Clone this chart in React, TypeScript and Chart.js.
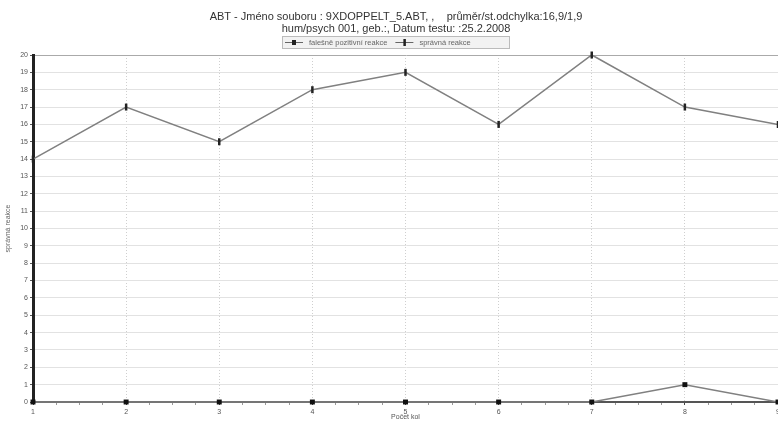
import React, { useEffect, useRef } from "react";
import { Chart, registerables } from "chart.js";

Chart.register(...registerables);

const rounds = [1, 2, 3, 4, 5, 6, 7, 8, 9];
const falsePositive = [0, 0, 0, 0, 0, 0, 0, 1, 0];
const correct = [14, 17, 15, 18, 19, 16, 20, 17, 16];
const titleLines = [
  "ABT - Jméno souboru : 9XDOPPELT_5.ABT, ,    průměr/st.odchylka:16,9/1,9",
  "hum/psych 001, geb.:, Datum testu: :25.2.2008",
];
const seriesNames = ["falešně pozitivní reakce", "správná reakce"];
const yTitle = "správná reakce";
const xTitle = "Počet kol";

const FONT = "'Liberation Sans', Arial, sans-serif";

// Draws the two-line heading and the boxed legend above the plot.
const header = {
  id: "header",
  afterDraw(chart: any) {
    const ctx = chart.ctx;
    ctx.save();
    ctx.fillStyle = "#333";
    ctx.font = `11px ${FONT}`;
    ctx.textAlign = "center";
    ctx.textBaseline = "middle";
    const cx = 396;
    ctx.fillText(titleLines[0], cx, 17);
    ctx.fillText(titleLines[1], cx, 29);

    // legend box
    const l = 282, t = 36, r = 509, b = 48;
    ctx.fillStyle = "#f2f2f2";
    ctx.fillRect(l, t, r - l, b - t);
    ctx.strokeStyle = "#bbb";
    ctx.lineWidth = 1;
    ctx.strokeRect(l + 0.5, t + 0.5, r - l, b - t);

    ctx.font = `7.5px ${FONT}`;
    ctx.textAlign = "left";
    let x = 285;
    const y = 42.5;
    chart.data.datasets.forEach((ds: any, i: number) => {
      ctx.strokeStyle = "#666";
      ctx.lineWidth = 1;
      ctx.beginPath();
      ctx.moveTo(x, y);
      ctx.lineTo(x + 18, y);
      ctx.stroke();
      ctx.fillStyle = "#222";
      if (i === 0) ctx.fillRect(x + 7, y - 2.5, 4, 5);
      else ctx.fillRect(x + 8, y - 3.5, 2.5, 7);
      ctx.fillStyle = "#666";
      ctx.fillText(ds.label, x + 24, y);
      x += 24 + ctx.measureText(ds.label).width + 8;
    });
    ctx.restore();
  },
};

export default function App() {
  const ref = useRef<HTMLCanvasElement>(null);
  useEffect(() => {
    document.body.style.margin = "0";
    const chart = new Chart(ref.current!, {
      type: "line",
      data: {
        datasets: [
          {
            label: seriesNames[0],
            data: rounds.map((r, i) => ({ x: r, y: falsePositive[i] })),
            borderColor: "#808080",
            borderWidth: 1.5,
            pointStyle: "rect",
            pointRadius: 3.5,
            pointBackgroundColor: "#111",
            pointBorderColor: "#111",
            pointBorderWidth: 0,
            clip: 6,
          },
          {
            label: seriesNames[1],
            data: rounds.map((r, i) => ({ x: r, y: correct[i] })),
            borderColor: "#808080",
            borderWidth: 1.5,
            pointStyle: "line",
            pointRotation: 90,
            pointRadius: 3.5,
            pointBorderColor: "#222",
            pointBorderWidth: 2.5,
            clip: 6,
          },
        ],
      },
      options: {
        animation: false,
        responsive: true,
        maintainAspectRatio: false,
        layout: { padding: { top: 55, left: 0, right: 0, bottom: 0 }, autoPadding: false },
        plugins: {
          tooltip: { enabled: false },
          title: { display: false },
          legend: { display: false },
        },
        scales: {
          x: {
            type: "linear",
            min: 1,
            max: 9,
            ticks: {
              stepSize: 0.25,
              autoSkip: false,
              maxRotation: 0,
              padding: 3,
              color: "#555",
              font: { family: FONT, size: 7 },
              callback: (v: any) => (Number.isInteger(v) ? String(v) : ""),
            },
            grid: {
              color: (c: any) =>
                c.tick && Number.isInteger(c.tick.value) ? "#cfcfcf" : "transparent",
              tickColor: (c: any) =>
                c.tick && Number.isInteger(c.tick.value) ? "#444" : "#999",
              tickLength: 3,
              lineWidth: 1,
            },
            border: { color: "#555", width: 2, dash: [1, 2] },
            title: {
              display: true,
              text: xTitle,
              color: "#555",
              font: { family: FONT, size: 7 },
              padding: 0,
            },
            afterFit: (s: any) => {
              s.height = 19;
              s.paddingRight = 0;
            },
          },
          y: {
            min: 0,
            max: 20,
            ticks: {
              stepSize: 1,
              padding: 2,
              color: "#555",
              font: { family: FONT, size: 7 },
            },
            grid: {
              color: (c: any) => (c.tick && c.tick.value === 20 ? "#aaa" : "#e2e2e2"),
              tickColor: "#555",
              tickLength: 3,
            },
            border: { color: "#222", width: 3 },
            title: {
              display: true,
              text: yTitle,
              color: "#666",
              font: { family: FONT, size: 7 },
              padding: { top: 4, bottom: 0 },
            },
            afterFit: (s: any) => {
              s.width = 33;
            },
          },
        },
      },
      plugins: [header],
    });
    return () => chart.destroy();
  }, []);
  return (
    <div style={{ width: 778, height: 421, position: "relative", background: "#fff" }}>
      <canvas ref={ref} />
    </div>
  );
}
